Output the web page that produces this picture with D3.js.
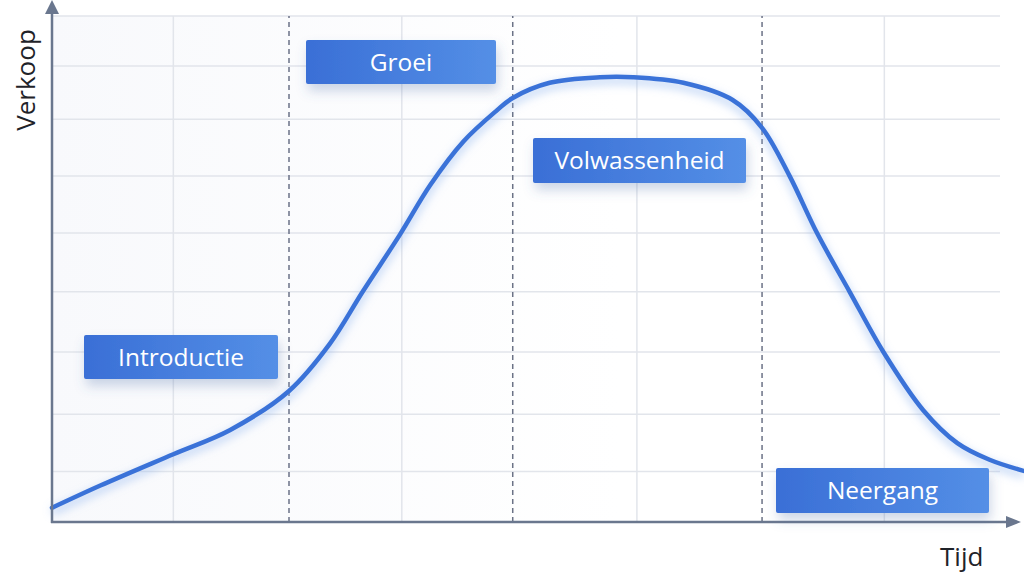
<!DOCTYPE html>
<html>
<head>
<meta charset="utf-8">
<script src="https://cdn.jsdelivr.net/npm/d3@7"></script>
<style>
  html, body { margin: 0; padding: 0; background: #fff; }
  svg { display: block; font-family: "Open Sans", sans-serif; }
</style>
</head>
<body>
<svg id="chart" width="1024" height="577"></svg>
<script>
// time (0-100) vs sales (0-100)
const curveX = [0, 5.1, 12.8, 18.8, 25, 29.3, 32.8, 36.7, 39.9, 43.4, 46.9, 48.6, 52.5, 57.8, 61.3, 66.6, 71.8, 74.9, 77.8, 80.7, 84.2, 87.7, 91.9, 95.5, 98.9, 102.5];
const curveY = [2.8, 7.2, 13.4, 18.2, 25.9, 35.2, 45.6, 56.8, 66.6, 75.2, 81.3, 83.8, 86.8, 87.9, 87.9, 86.8, 83.4, 77.9, 68.4, 57.1, 45.3, 33.6, 22.1, 15.6, 12.3, 10.1];

const gridX = [12.8, 36.9, 61.7, 87.8];
const gridY = [10, 21.3, 33.6, 45.5, 57.1, 68.4, 79.6, 90.1, 100];
const phaseBounds = [25, 48.6, 74.9];
const phases = ["Introductie", "Groei", "Volwassenheid", "Neergang"];

// label box placement (pixels)
const boxes = [
  { x: 84, y: 335, w: 194, h: 44 },
  { x: 306, y: 40, w: 190, h: 44 },
  { x: 533, y: 138, w: 213, h: 45 },
  { x: 776, y: 468, w: 213, h: 45 }
];

const svg = d3.select("#chart");
const x = d3.scaleLinear().domain([0, 100]).range([52, 1000]);
const y = d3.scaleLinear().domain([0, 100]).range([522, 16]);

const defs = svg.append("defs");

const bg = defs.append("linearGradient").attr("id", "bg").attr("x1", 0).attr("x2", 1);
bg.append("stop").attr("offset", "0%").attr("stop-color", "#f8f9fc");
bg.append("stop").attr("offset", "60%").attr("stop-color", "#ffffff");

const boxGrad = defs.append("linearGradient").attr("id", "boxGrad").attr("x1", 0).attr("x2", 1);
boxGrad.append("stop").attr("offset", "0%").attr("stop-color", "#3a6fd6");
boxGrad.append("stop").attr("offset", "100%").attr("stop-color", "#548fe6");

const shadow = defs.append("filter").attr("id", "shadow")
  .attr("x", "-20%").attr("y", "-30%").attr("width", "140%").attr("height", "190%");
shadow.append("feDropShadow")
  .attr("dx", 2).attr("dy", 7).attr("stdDeviation", 6)
  .attr("flood-color", "#4d6fa8").attr("flood-opacity", 0.28);

const glow = defs.append("filter").attr("id", "glow")
  .attr("x", "-10%").attr("y", "-10%").attr("width", "120%").attr("height", "130%");
glow.append("feGaussianBlur").attr("stdDeviation", 4);

// plot background
svg.append("rect")
  .attr("x", x(0)).attr("y", y(100))
  .attr("width", x(100) - x(0)).attr("height", y(0) - y(100))
  .attr("fill", "url(#bg)");

// grid
svg.append("g")
  .selectAll("line")
  .data(gridY)
  .join("line")
  .attr("x1", x(0)).attr("x2", x(100))
  .attr("y1", d => y(d)).attr("y2", d => y(d))
  .attr("stroke", "#e2e5eb").attr("stroke-width", 1.5);

svg.append("g")
  .selectAll("line")
  .data(gridX)
  .join("line")
  .attr("x1", d => x(d)).attr("x2", d => x(d))
  .attr("y1", y(0)).attr("y2", y(100))
  .attr("stroke", "#e2e5eb").attr("stroke-width", 1.5);

// phase separators
svg.append("g")
  .selectAll("line")
  .data(phaseBounds)
  .join("line")
  .attr("x1", d => x(d)).attr("x2", d => x(d))
  .attr("y1", y(0)).attr("y2", y(100))
  .attr("stroke", "#6b7286").attr("stroke-width", 1.5)
  .attr("stroke-dasharray", "5,4");

// sales curve
const points = curveX.map((d, i) => [d, curveY[i]]);
const line = d3.line()
  .x(d => x(d[0]))
  .y(d => y(d[1]))
  .curve(d3.curveCatmullRom.alpha(0.5));

svg.append("path")
  .datum(points)
  .attr("d", line)
  .attr("fill", "none")
  .attr("stroke", "#8fb3ee")
  .attr("stroke-opacity", 0.45)
  .attr("stroke-width", 8)
  .attr("transform", "translate(0,4)")
  .attr("filter", "url(#glow)");

svg.append("path")
  .datum(points)
  .attr("d", line)
  .attr("fill", "none")
  .attr("stroke", "#3a72d8")
  .attr("stroke-width", 4.5)
  .attr("stroke-linecap", "round");

// axes with arrows
const axisColor = "#6a778e";
svg.append("line")
  .attr("x1", x(0)).attr("x2", x(0))
  .attr("y1", y(0) + 1).attr("y2", 12)
  .attr("stroke", axisColor).attr("stroke-width", 2.5);
svg.append("path")
  .attr("d", `M${x(0)},0 L${x(0) - 7},14 L${x(0) + 7},14 Z`)
  .attr("fill", axisColor);

svg.append("line")
  .attr("x1", x(0) - 1).attr("x2", 1008)
  .attr("y1", y(0)).attr("y2", y(0))
  .attr("stroke", axisColor).attr("stroke-width", 2.5);
svg.append("path")
  .attr("d", `M1021,${y(0)} L1006,${y(0) - 6} L1006,${y(0) + 6} Z`)
  .attr("fill", axisColor);

svg.append("text")
  .attr("transform", "translate(35,80) rotate(-90)")
  .attr("text-anchor", "middle")
  .attr("font-size", 26)
  .attr("fill", "#1f2329")
  .text("Verkoop");

svg.append("text")
  .attr("x", 940).attr("y", 566)
  .attr("font-size", 26)
  .attr("fill", "#1f2329")
  .text("Tijd");

// phase labels
const labels = svg.append("g")
  .selectAll("g")
  .data(phases)
  .join("g")
  .attr("transform", (d, i) => `translate(${boxes[i].x},${boxes[i].y})`);

labels.append("rect")
  .attr("width", (d, i) => boxes[i].w)
  .attr("height", (d, i) => boxes[i].h)
  .attr("rx", 2)
  .attr("fill", "url(#boxGrad)")
  .attr("filter", "url(#shadow)");

labels.append("text")
  .attr("x", (d, i) => boxes[i].w / 2)
  .attr("y", (d, i) => boxes[i].h / 2)
  .attr("dy", "0.35em")
  .attr("text-anchor", "middle")
  .attr("font-size", 24.5)
  .attr("font-weight", 500)
  .attr("fill", "#fff")
  .text(d => d);
</script>
</body>
</html>
